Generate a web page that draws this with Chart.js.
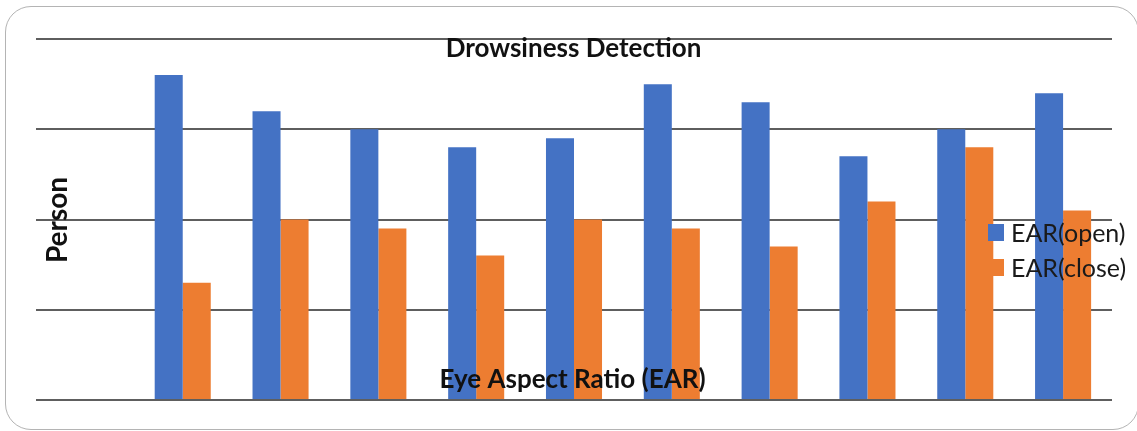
<!DOCTYPE html>
<html>
<head>
<meta charset="utf-8">
<script src="https://cdn.jsdelivr.net/npm/chart.js@4.4.1/dist/chart.umd.min.js"></script>
<style>
  html, body { margin: 0; padding: 0; background: #fff; }
  #wrap { position: relative; width: 1137px; height: 431px; overflow: hidden; }
  #frame {
    position: absolute; left: 5px; top: 6px; width: 1134px; height: 424px;
    border: 1.5px solid #b4b4b4; border-radius: 26px; box-sizing: border-box;
  }
  canvas { position: absolute; left: 0; top: 0; }
</style>
</head>
<body>
<div id="wrap">
  <div id="frame"></div>
  <canvas id="chart" width="1137" height="431"></canvas>
</div>
<script>
// data (first slot empty, like the source sheet)
const categories = ['', 'P1', 'P2', 'P3', 'P4', 'P5', 'P6', 'P7', 'P8', 'P9', 'P10'];
const earOpen  = [null, 0.36, 0.32, 0.30, 0.28, 0.29, 0.35, 0.33, 0.27, 0.30, 0.34];
const earClose = [null, 0.13, 0.20, 0.19, 0.16, 0.20, 0.19, 0.17, 0.22, 0.28, 0.21];
const yTicks = [0, 0.1, 0.2, 0.3, 0.4];

const BLUE = '#4472C4';
const ORANGE = '#ED7D31';
const FONT = 'Lato, "Open Sans", sans-serif';

// titles + legend drawn on top of the plot, like the Excel original
const overlay = {
    id: 'overlay',
    afterDraw(chart) {
        const ctx = chart.ctx;
        ctx.save();
        ctx.fillStyle = '#111';
        ctx.textBaseline = 'alphabetic';

        ctx.textAlign = 'center';
        ctx.font = 'bold 26px ' + FONT;
        ctx.fillText('Drowsiness Detection', 573.5, 57);
        ctx.font = 'bold 26px ' + FONT;
        ctx.fillText('Eye Aspect Ratio (EAR)', 572.5, 388);

        ctx.save();
        ctx.translate(67, 220);
        ctx.rotate(-Math.PI / 2);
        ctx.font = 'bold 28px ' + FONT;
        ctx.fillText('Person', 0, 0);
        ctx.restore();

        // legend
        ctx.textAlign = 'left';
        ctx.font = '25px ' + FONT;
        chart.data.datasets.forEach((ds, i) => {
            const y = 242 + i * 35;
            ctx.fillStyle = ds.backgroundColor;
            ctx.fillRect(988, y - 18, 16, 17);
            ctx.fillStyle = '#1a1a1a';
            ctx.fillText(ds.label, 1011, y);
        });
        ctx.restore();
    }
};

new Chart(document.getElementById('chart'), {
    type: 'bar',
    data: {
        labels: categories,
        datasets: [
            { label: 'EAR(open)', data: earOpen, backgroundColor: BLUE },
            { label: 'EAR(close)', data: earClose, backgroundColor: ORANGE }
        ]
    },
    options: {
        responsive: false,
        animation: false,
        layout: { padding: { left: 36, right: 25, top: 39, bottom: 31 } },
        datasets: { bar: { categoryPercentage: 0.573, barPercentage: 1.0 } },
        plugins: { legend: { display: false }, title: { display: false }, tooltip: { enabled: false } },
        scales: {
            x: { display: false },
            y: {
                min: yTicks[0],
                max: yTicks[yTicks.length - 1],
                afterBuildTicks: (axis) => { axis.ticks = yTicks.map(v => ({ value: v })); },
                ticks: { display: false },
                border: { display: false },
                grid: { color: '#5e5e5e', lineWidth: 2, drawTicks: false }
            }
        }
    },
    plugins: [overlay]
});
</script>
</body>
</html>
